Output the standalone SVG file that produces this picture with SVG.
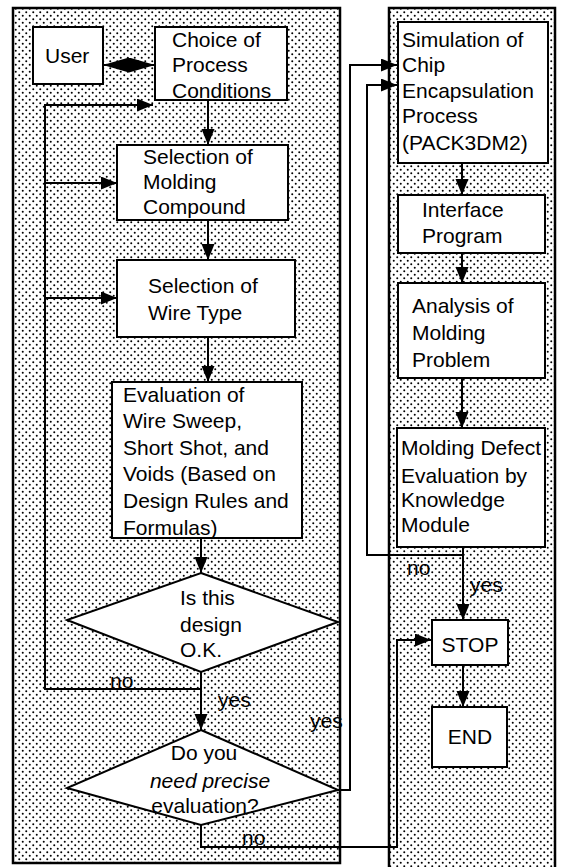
<svg xmlns="http://www.w3.org/2000/svg" width="561" height="867" viewBox="0 0 561 867">
<style>
.panel{fill:url(#dots);stroke:#000;stroke-width:2.5}
.box{fill:#fff;stroke:#000;stroke-width:2}
.t{font-family:"Liberation Sans",Arial,sans-serif;font-size:21px;fill:#000}
.c{text-anchor:middle}
.con{fill:none;stroke:#000;stroke-width:2}
.arr{marker-end:url(#ah)}
</style>
<defs>
<pattern id="dots" width="7" height="7" patternUnits="userSpaceOnUse">
<rect width="7" height="7" fill="#fff"/>
<circle cx="1.75" cy="1.75" r="1" fill="#000"/>
<circle cx="5.25" cy="5.25" r="1" fill="#000"/>
</pattern>
<marker id="ah" markerUnits="userSpaceOnUse" markerWidth="18" markerHeight="14" refX="16" refY="6.5" orient="auto-start-reverse">
<path d="M0,0 L16,6.5 L0,13 Z" fill="#000"/>
</marker>
<marker id="ahb" markerUnits="userSpaceOnUse" markerWidth="28" markerHeight="16" refX="26" refY="7.5" orient="auto-start-reverse">
<path d="M0,0 L26,7.5 L0,15 Z" fill="#000"/>
</marker>
</defs>

<g id="panels">
<rect class="panel" x="13" y="8" width="327" height="855"/>
<rect class="panel" x="389" y="8" width="166" height="866"/>
</g>

<g id="connectors">
<line class="con" x1="103" y1="65" x2="155" y2="65" marker-start="url(#ahb)" marker-end="url(#ahb)"/>
<path class="con arr" d="M201,672 V689 H45 V105 H153"/>
<line class="con arr" x1="45" y1="183" x2="117" y2="183"/>
<line class="con arr" x1="45" y1="298" x2="117" y2="298"/>
<line class="con arr" x1="208" y1="100" x2="208" y2="145"/>
<line class="con arr" x1="208" y1="220" x2="208" y2="260"/>
<line class="con arr" x1="208" y1="337" x2="208" y2="382"/>
<line class="con arr" x1="201" y1="538" x2="201" y2="573"/>
<line class="con arr" x1="201" y1="672" x2="201" y2="730"/>
<path class="con arr" d="M338,790 H350 V65 H397"/>
<path class="con arr" d="M201,825 V847 H397 V640 H431"/>
<line class="con arr" x1="462" y1="163" x2="462" y2="195"/>
<line class="con arr" x1="462" y1="253" x2="462" y2="283"/>
<line class="con arr" x1="462" y1="378" x2="462" y2="428"/>
<line class="con arr" x1="463" y1="547" x2="463" y2="620"/>
<line class="con arr" x1="463" y1="665" x2="463" y2="707"/>
<path class="con arr" d="M463,555 H367 V85 H397"/>
<text class="t" x="110" y="688">no</text>
<text class="t" x="218" y="707">yes</text>
<text class="t" x="310" y="728">yes</text>
<text class="t" x="242" y="845">no</text>
<text class="t" x="407" y="575">no</text>
<text class="t" x="470" y="592">yes</text>
</g>

<g id="user">
<rect class="box" x="33" y="27" width="70" height="57"/>
<text class="t" x="45" y="63">User</text>
</g>
<g id="choice">
<rect class="box" x="155" y="27" width="132" height="73"/>
<text class="t" x="172" y="47">Choice of</text>
<text class="t" x="172" y="72">Process</text>
<text class="t" x="172" y="98">Conditions</text>
</g>
<g id="molding">
<rect class="box" x="117" y="145" width="171" height="75"/>
<text class="t" x="143" y="164">Selection of</text>
<text class="t" x="143" y="189">Molding</text>
<text class="t" x="143" y="214">Compound</text>
</g>
<g id="wire">
<rect class="box" x="117" y="260" width="178" height="77"/>
<text class="t" x="148" y="293">Selection of</text>
<text class="t" x="148" y="320">Wire Type</text>
</g>
<g id="evaluation">
<rect class="box" x="112" y="382" width="190" height="156"/>
<text class="t" x="123" y="402">Evaluation of</text>
<text class="t" x="123" y="428">Wire Sweep,</text>
<text class="t" x="123" y="455">Short Shot, and</text>
<text class="t" x="123" y="481">Voids (Based on</text>
<text class="t" x="123" y="508">Design Rules and</text>
<text class="t" x="123" y="535">Formulas)</text>
</g>
<g id="decision1">
<polygon class="box" points="201,573 338,622 201,672 67,620"/>
<text class="t" x="180" y="605">Is this</text>
<text class="t" x="180" y="632">design</text>
<text class="t" x="180" y="657">O.K.</text>
</g>
<g id="decision2">
<polygon class="box" points="201,730 338,790 201,825 67,788"/>
<text class="t c" x="204" y="760">Do you</text>
<text class="t c" x="210" y="788" font-style="italic">need precise</text>
<text class="t c" x="205" y="813">evaluation?</text>
</g>
<g id="simulation">
<rect class="box" x="398" y="22" width="150" height="141"/>
<text class="t" x="402" y="47">Simulation of</text>
<text class="t" x="402" y="72">Chip</text>
<text class="t" x="402" y="98">Encapsulation</text>
<text class="t" x="402" y="123">Process</text>
<text class="t" x="402" y="150">(PACK3DM2)</text>
</g>
<g id="interface">
<rect class="box" x="398" y="195" width="147" height="58"/>
<text class="t" x="422" y="217">Interface</text>
<text class="t" x="422" y="243">Program</text>
</g>
<g id="analysis">
<rect class="box" x="398" y="283" width="147" height="95"/>
<text class="t" x="412" y="313">Analysis of</text>
<text class="t" x="412" y="340">Molding</text>
<text class="t" x="412" y="367">Problem</text>
</g>
<g id="defect">
<rect class="box" x="397" y="428" width="148" height="119"/>
<text class="t" x="401" y="455">Molding Defect</text>
<text class="t" x="401" y="483">Evaluation by</text>
<text class="t" x="401" y="507">Knowledge</text>
<text class="t" x="401" y="532">Module</text>
</g>
<g id="stop">
<rect class="box" x="432" y="620" width="76" height="45"/>
<text class="t c" x="470" y="652">STOP</text>
</g>
<g id="end">
<rect class="box" x="432" y="707" width="75" height="60"/>
<text class="t c" x="470" y="744">END</text>
</g>
</svg>
